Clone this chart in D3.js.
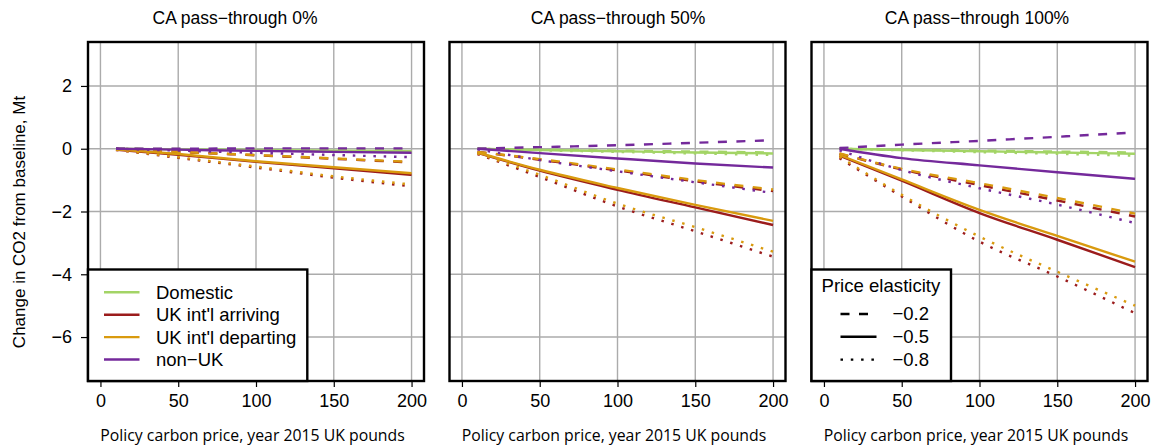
<!DOCTYPE html>
<html>
<head>
<meta charset="utf-8">
<script src="https://cdn.jsdelivr.net/npm/d3@7"></script>
<style>
  body { margin: 0; background: #fff; }
  svg { display: block; }
  text { font-family: "Liberation Sans", Arial, sans-serif; fill: #000; }
</style>
</head>
<body>
<script>
// carbon price points (x)
const prices = [10, 50, 100, 150, 200];
const xTicks = [0, 50, 100, 150, 200];
const yTicks = [2, 0, -2, -4, -6];
const panelTitles = ["CA pass\u2212through 0%", "CA pass\u2212through 50%", "CA pass\u2212through 100%"];
const categories = ["Domestic", "UK int'l arriving", "UK int'l departing", "non\u2212UK"];
const elasticities = ["\u22120.2", "\u22120.5", "\u22120.8"];
const colours = ["#a3d466", "#9b1c1c", "#d99a0e", "#74299b"];

// each array: rows = elasticity -0.2, -0.5, -0.8
// pass-through 0%
const domestic0  = [[0, -0.01, -0.03, -0.04, -0.06], [0, -0.02, -0.04, -0.06, -0.08], [0, -0.03, -0.05, -0.08, -0.10]];
const arriving0  = [[-0.01, -0.10, -0.21, -0.32, -0.44], [-0.03, -0.19, -0.42, -0.62, -0.83], [-0.04, -0.29, -0.60, -0.92, -1.20]];
const departing0 = [[-0.01, -0.10, -0.20, -0.31, -0.42], [-0.02, -0.17, -0.40, -0.59, -0.78], [-0.03, -0.27, -0.57, -0.88, -1.14]];
const nonUK0     = [[0, 0.0, 0.01, 0.01, 0.01], [0, -0.03, -0.07, -0.10, -0.13], [0, -0.06, -0.13, -0.20, -0.27]];

// pass-through 50%
const domestic50  = [[0, -0.03, -0.06, -0.09, -0.12], [0, -0.04, -0.08, -0.12, -0.15], [0, -0.05, -0.10, -0.15, -0.20]];
const arriving50  = [[-0.10, -0.35, -0.69, -1.04, -1.35], [-0.13, -0.70, -1.31, -1.87, -2.43], [-0.17, -0.90, -1.84, -2.63, -3.44]];
const departing50 = [[-0.10, -0.33, -0.66, -1.00, -1.30], [-0.12, -0.67, -1.25, -1.79, -2.30], [-0.15, -0.83, -1.75, -2.50, -3.28]];
const nonUK50     = [[0, 0.05, 0.11, 0.19, 0.27], [0, -0.14, -0.31, -0.47, -0.60], [-0.02, -0.36, -0.72, -1.07, -1.41]];

// pass-through 100%
const domestic100  = [[0, -0.03, -0.06, -0.09, -0.12], [0, -0.04, -0.08, -0.12, -0.16], [0, -0.05, -0.11, -0.16, -0.22]];
const arriving100  = [[-0.16, -0.66, -1.16, -1.65, -2.16], [-0.22, -1.02, -2.05, -2.90, -3.77], [-0.30, -1.52, -2.96, -4.07, -5.24]];
const departing100 = [[-0.15, -0.64, -1.10, -1.57, -2.07], [-0.20, -0.98, -1.95, -2.78, -3.60], [-0.25, -1.47, -2.80, -3.92, -5.00]];
const nonUK100     = [[0.02, 0.13, 0.25, 0.38, 0.52], [0, -0.30, -0.53, -0.75, -0.96], [-0.05, -0.68, -1.26, -1.78, -2.37]];

const panelData = [
  [domestic0, arriving0, departing0, nonUK0],
  [domestic50, arriving50, departing50, nonUK50],
  [domestic100, arriving100, departing100, nonUK100]
];

const W = 1153, H = 448;
const panelLeft = [88, 449.5, 811.5];
const panelW = 336;
const plotTop = 42, plotBottom = 381;
const titleX = [235, 618, 977];
const dashes = ["9,9.5", null, "2.5,7.8"];

const svg = d3.select("body").append("svg")
  .attr("width", W)
  .attr("height", H);

const y = d3.scaleLinear().domain([-7.4, 3.4]).range([plotBottom, plotTop]);

panelData.forEach((series, p) => {
  const x = d3.scaleLinear().domain([-8, 208]).range([panelLeft[p], panelLeft[p] + panelW]);
  const g = svg.append("g");

  // grid
  g.selectAll(".gx").data(xTicks).join("line")
    .attr("class", "gx")
    .attr("x1", d => x(d)).attr("x2", d => x(d))
    .attr("y1", plotTop).attr("y2", plotBottom)
    .attr("stroke", "#ababab").attr("stroke-width", 1.4);
  g.selectAll(".gy").data(yTicks).join("line")
    .attr("class", "gy")
    .attr("x1", panelLeft[p]).attr("x2", panelLeft[p] + panelW)
    .attr("y1", d => y(d)).attr("y2", d => y(d))
    .attr("stroke", "#ababab").attr("stroke-width", 1.4);

  const line = d3.line()
    .x((d, i) => x(prices[i]))
    .y(d => y(d))
    .curve(d3.curveMonotoneX);

  series.forEach((rows, c) => {
    rows.forEach((vals, e) => {
      g.append("path")
        .attr("d", line(vals))
        .attr("fill", "none")
        .attr("stroke", colours[c])
        .attr("stroke-width", 2.4)
        .attr("stroke-dasharray", dashes[e]);
    });
  });

  // x axis
  const xa = svg.append("g")
    .attr("transform", `translate(0,${plotBottom})`)
    .call(d3.axisBottom(x).tickValues(xTicks).tickSize(6).tickPadding(7));
  xa.select(".domain").remove();
  xa.selectAll("line").attr("stroke", "#000").attr("stroke-width", 1.2);
  xa.selectAll("text")
    .style("font-family", "Liberation Sans, Arial, sans-serif")
    .style("font-size", "18px").attr("fill", "#000");

  if (p === 0) {
    const ya = svg.append("g")
      .attr("transform", `translate(${panelLeft[0]},0)`)
      .call(d3.axisLeft(y).tickValues(yTicks).tickSize(7).tickPadding(9)
        .tickFormat(d => d < 0 ? "\u2212" + Math.abs(d) : d));
    ya.select(".domain").remove();
    ya.selectAll("line").attr("stroke", "#000").attr("stroke-width", 1.2);
    ya.selectAll("text")
      .style("font-family", "Liberation Sans, Arial, sans-serif")
      .style("font-size", "18px").attr("fill", "#000");
  }

  // frame
  svg.append("rect")
    .attr("x", panelLeft[p]).attr("y", plotTop)
    .attr("width", panelW).attr("height", plotBottom - plotTop)
    .attr("fill", "none").attr("stroke", "#000").attr("stroke-width", 2.4);

  svg.append("text")
    .attr("x", titleX[p]).attr("y", 24)
    .attr("text-anchor", "middle")
    .style("font-size", "17.5px")
    .text(panelTitles[p]);

  svg.append("text")
    .attr("x", x(100) - 3.5).attr("y", 441)
    .attr("text-anchor", "middle")
    .style("font-family", "Open Sans, sans-serif")
    .style("font-size", "15.8px")
    .text("Policy carbon price, year 2015 UK pounds");
});

// y axis title
svg.append("text")
  .attr("transform", "translate(25,222) rotate(-90)")
  .attr("text-anchor", "middle")
  .style("font-size", "17px")
  .text("Change in CO2 from baseline, Mt");

// legend: categories
const leg1 = svg.append("g");
leg1.append("rect")
  .attr("x", panelLeft[0]).attr("y", 269.5)
  .attr("width", 307.3 - panelLeft[0]).attr("height", plotBottom - 269.5)
  .attr("fill", "#fff").attr("stroke", "#000").attr("stroke-width", 2.4);
categories.forEach((c, i) => {
  const ly = 292.3 + i * 22.4;
  leg1.append("line")
    .attr("x1", 104).attr("x2", 139.5).attr("y1", ly).attr("y2", ly)
    .attr("stroke", colours[i]).attr("stroke-width", 2.4);
  leg1.append("text")
    .attr("x", 156).attr("y", ly + 6.4)
    .style("font-size", "18.5px")
    .text(c);
});

// legend: elasticities
const leg2 = svg.append("g");
leg2.append("rect")
  .attr("x", panelLeft[2]).attr("y", 269.5)
  .attr("width", 951 - panelLeft[2]).attr("height", plotBottom - 269.5)
  .attr("fill", "#fff").attr("stroke", "#000").attr("stroke-width", 2.4);
leg2.append("text")
  .attr("x", 821.5).attr("y", 291.5)
  .style("font-size", "18.6px")
  .text("Price elasticity");
elasticities.forEach((e, i) => {
  const ly = 314 + i * 22.8;
  leg2.append("line")
    .attr("x1", 840.5).attr("x2", 876.5).attr("y1", ly).attr("y2", ly)
    .attr("stroke", "#000").attr("stroke-width", 2.4)
    .attr("stroke-dasharray", dashes[i]);
  leg2.append("text")
    .attr("x", 892.5).attr("y", ly + 6.4)
    .style("font-size", "18.5px")
    .text(e);
});
</script>
</body>
</html>
